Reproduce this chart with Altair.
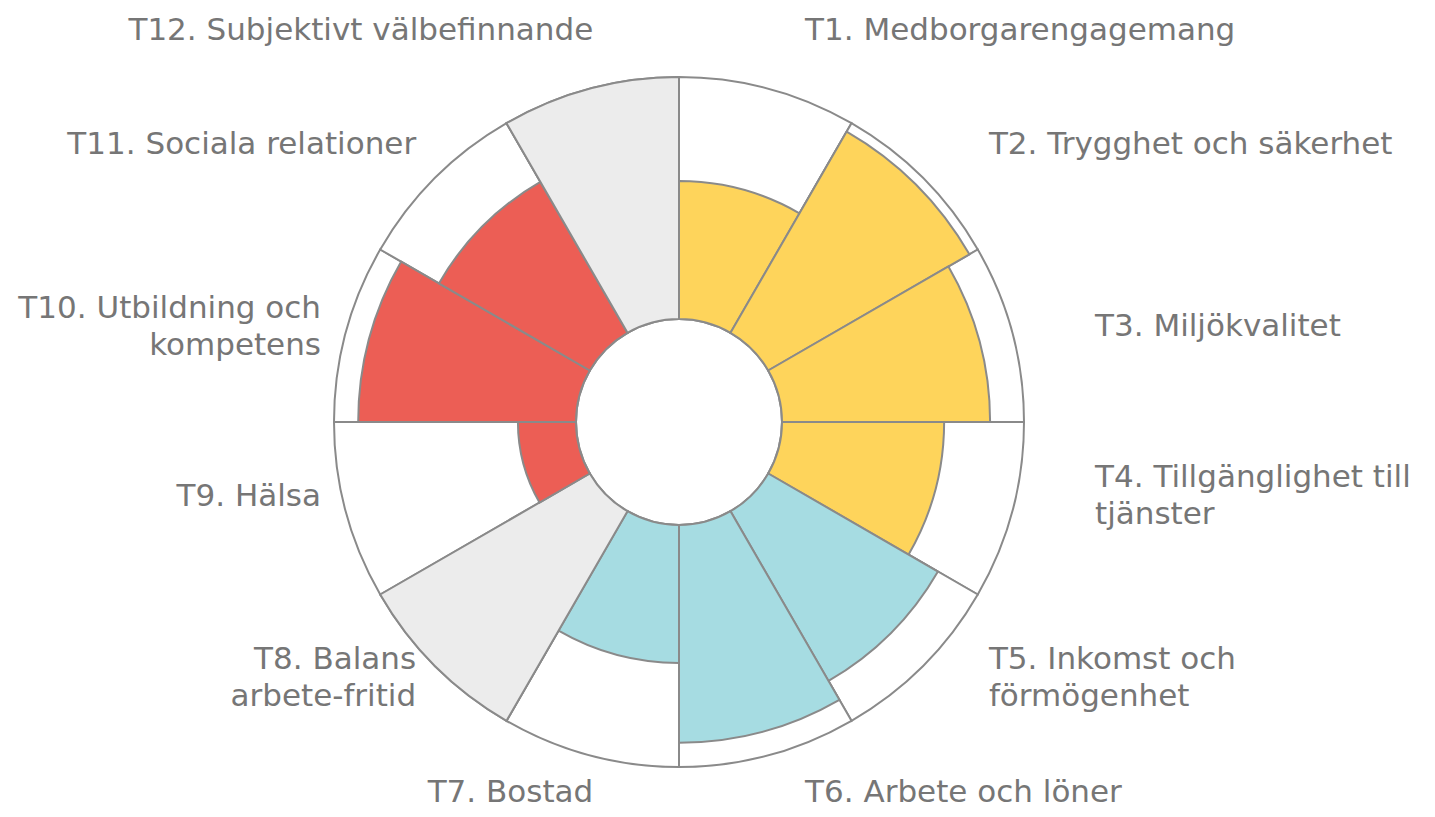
import altair as alt
import pandas as pd

labels = [
    "T1. Medborgarengagemang",
    "T2. Trygghet och säkerhet",
    "T3. Miljökvalitet",
    "T4. Tillgänglighet till\ntjänster",
    "T5. Inkomst och\nförmögenhet",
    "T6. Arbete och löner",
    "T7. Bostad",
    "T8. Balans\narbete-fritid",
    "T9. Hälsa",
    "T10. Utbildning och\nkompetens",
    "T11. Sociala relationer",
    "T12. Subjektivt välbefinnande",
]
values = [5.7, 9.6, 8.6, 6.7, 8.1, 9.0, 5.7, None, 2.4, 9.0, 7.2, None]
groups = ["A", "A", "A", "A", "B", "B", "B", "Saknas", "C", "C", "C", "Saknas"]

group_domain = ["A", "B", "C", "Saknas"]
group_colors = ["#FED45B", "#A6DCE2", "#EC5E55", "#ECECEC"]
MAX = 10

rows = []
for i, (lab, v, g) in enumerate(zip(labels, values, groups)):
    rows.append({
        "label": lab,
        "value": v if v is not None else MAX,
        "group": g,
        "start": i,
        "end": i + 1,
        "mid": i + 0.5,
        "full": MAX,
        "base": 0,
    })
df = pd.DataFrame(rows)

W, H = 1342, 770
LINE_H = 37
theta_scale = alt.Scale(domain=[0, 12], range=[0, 6.283185307179586])
radius_scale = alt.Scale(type="linear", domain=[0, MAX], range=[103, 345], zero=False)

base = alt.Chart(df)

bg = base.mark_arc(fill="white", stroke="#8a8a8a", strokeWidth=2).encode(
    theta=alt.Theta("start:Q", scale=theta_scale),
    theta2="end:Q",
    radius=alt.Radius("full:Q", scale=radius_scale),
    radius2="base:Q",
)

fg = base.mark_arc(stroke="#8a8a8a", strokeWidth=2).encode(
    theta=alt.Theta("start:Q", scale=theta_scale),
    theta2="end:Q",
    radius=alt.Radius("value:Q", scale=radius_scale),
    radius2="base:Q",
    fill=alt.Fill("group:N", scale=alt.Scale(domain=group_domain, range=group_colors), legend=None),
)

text_style = dict(font="DejaVu Sans", fontSize=31, color="#767676",
                  baseline="middle", lineBreak="\n", lineHeight=LINE_H)

label_base = base.transform_calculate(
    ang="datum.mid / 12 * 2 * PI",
    nlines="split(datum.label, '\\n').length",
).transform_calculate(
    s="sin(datum.ang)",
    c="cos(datum.ang)",
).transform_calculate(
    lx=f"{W / 2} + (datum.s > 0 ? 20 : 20 + 20 * pow(abs(datum.s), 3)) + 410 * datum.s",
    ly=(f"{H / 2 - 10} - 396 * (datum.c < 0 ? -1 : 1) * pow(abs(datum.c), 1.14)"
        f" - (datum.nlines - 1) * {LINE_H / 2}"),
)

txt_right = label_base.transform_filter("datum.mid < 6").mark_text(align="left", **text_style).encode(
    x=alt.X("lx:Q", scale=None, axis=None),
    y=alt.Y("ly:Q", scale=None, axis=None),
    text="label:N",
)
txt_left = label_base.transform_filter("datum.mid > 6").mark_text(align="right", **text_style).encode(
    x=alt.X("lx:Q", scale=None, axis=None),
    y=alt.Y("ly:Q", scale=None, axis=None),
    text="label:N",
)

chart = alt.layer(bg, fg, txt_right, txt_left).properties(
    width=W,
    height=H,
    autosize="none",
    padding={"left": 0, "top": 29, "right": 76, "bottom": 2},
).configure_view(stroke=None)

chart.save("out.html", embed_options={"renderer": "svg", "actions": False})
